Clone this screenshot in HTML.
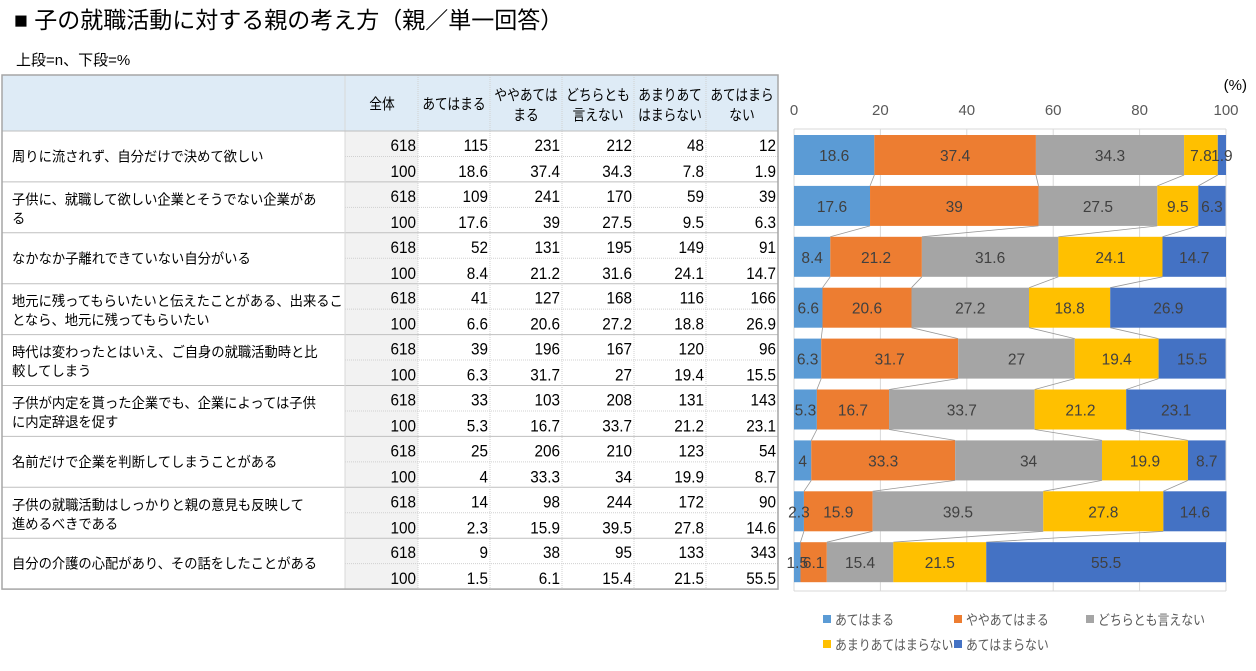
<!DOCTYPE html>
<html><head><meta charset="utf-8">
<style>
body{margin:0;background:#fff;width:1256px;height:666px;overflow:hidden;font-family:"Liberation Sans","Noto Sans CJK JP",sans-serif;}
svg text{font-family:"Liberation Sans","Noto Sans CJK JP",sans-serif;}
</style></head><body>
<svg id="s" width="1256" height="666" xmlns="http://www.w3.org/2000/svg"></svg>
<script>
const labels=[["周りに流されず、自分だけで決めて欲しい"],["子供に、就職して欲しい企業とそうでない企業があ","る"],["なかなか子離れできていない自分がいる"],["地元に残ってもらいたいと伝えたことがある、出来るこ","となら、地元に残ってもらいたい"],["時代は変わったとはいえ、ご自身の就職活動時と比","較してしまう"],["子供が内定を貰った企業でも、企業によっては子供","に内定辞退を促す"],["名前だけで企業を判断してしまうことがある"],["子供の就職活動はしっかりと親の意見も反映して","進めるべきである"],["自分の介護の心配があり、その話をしたことがある"]];
const n=[[115,231,212,48,12],[109,241,170,59,39],[52,131,195,149,91],[41,127,168,116,166],[39,196,167,120,96],[33,103,208,131,143],[25,206,210,123,54],[14,98,244,172,90],[9,38,95,133,343]];
const p=[[18.6,37.4,34.3,7.8,1.9],[17.6,39,27.5,9.5,6.3],[8.4,21.2,31.6,24.1,14.7],[6.6,20.6,27.2,18.8,26.9],[6.3,31.7,27,19.4,15.5],[5.3,16.7,33.7,21.2,23.1],[4,33.3,34,19.9,8.7],[2.3,15.9,39.5,27.8,14.6],[1.5,6.1,15.4,21.5,55.5]];
const cols=["#5b9bd5","#ed7d31","#a5a5a5","#ffc000","#4472c4"];
const sx=(x,y,s,content,attrs)=>`<text transform="translate(${x},${y}) scale(${s},1)" ${attrs}>${content}</text>`;
let h='';
h+=sx(14,28,1,"■ 子の就職活動に対する親の考え方（親／単一回答）",'font-size="23" fill="#000"');
h+=sx(16,65,1,"上段=n、下段=%",'font-size="15" fill="#000"');
const T=75,H=131,R=50.9;
const cx=[2,345,418,490,562,634,706,778];
h+=`<rect x="2" y="${T}" width="776" height="${H-T}" fill="#deebf6"/>`;
h+=`<rect x="345" y="${H}" width="73" height="${R*9}" fill="#f2f2f2"/>`;
const hd=[["全体"],["あてはまる"],["ややあては","まる"],["どちらとも","言えない"],["あまりあて","はまらない"],["あてはまら","ない"]];
hd.forEach((t,i)=>{const x=(cx[i+1]+cx[i+2])/2;
 if(t.length==1)h+=sx(i==0?382:x,109,0.85,t[0],'font-size="15" text-anchor="middle"');
 else{h+=sx(x,100,0.85,t[0],'font-size="15" text-anchor="middle"')+sx(x,120,0.85,t[1],'font-size="15" text-anchor="middle"');}});
for(let i=0;i<9;i++){const y=H+i*R;
 if(i>0)h+=`<line x1="2" x2="778" y1="${y}" y2="${y}" stroke="#bfbfbf"/>`;
 h+=`<line x1="345" x2="778" y1="${y+R/2}" y2="${y+R/2}" stroke="#d0d0d0" stroke-dasharray="1,1"/>`;
 const L=labels[i];
 if(L.length==1)h+=sx(12,y+R/2+5,0.95,L[0],'font-size="14"');
 else h+=sx(12,y+R/2-3,0.95,L[0],'font-size="14"')+sx(12,y+R/2+16,0.95,L[1],'font-size="14"');
 const r1=[618,...n[i]],r2=[100,...p[i]];
 for(let j=0;j<6;j++){h+=sx(cx[j+2]-2,y+20,0.9,r1[j],'font-size="17" text-anchor="end"')+sx(cx[j+2]-2,y+46,0.9,r2[j],'font-size="17" text-anchor="end"');}
}
for(let j=2;j<7;j++)h+=`<line x1="${cx[j]}" x2="${cx[j]}" y1="${T}" y2="${H+R*9}" stroke="#d0d0d0" stroke-dasharray="1,1"/>`;
h+=`<line x1="345" x2="345" y1="${T}" y2="${H+R*9}" stroke="#d8d8d8"/>`;
h+=`<line x1="2" x2="778" y1="${H}" y2="${H}" stroke="#bfbfbf"/>`;
h+=`<rect x="2" y="${T}" width="776" height="${H+R*9-T}" fill="none" stroke="#a6a6a6" stroke-width="1.5"/>`;
const X0=794,W=432;
for(let k=0;k<=5;k++){const x=X0+W*k/5;h+=`<line x1="${x}" x2="${x}" y1="129" y2="591" stroke="#d9d9d9"/><text x="${x}" y="115" font-size="15" fill="#595959" text-anchor="middle">${k*20}</text>`;}
h+=`<text x="1247" y="90" font-size="15" fill="#000" text-anchor="end">(%)</text>`;
h+=`<line x1="794" x2="1226" y1="129" y2="129" stroke="#d9d9d9"/><line x1="794" x2="1226" y1="591" y2="591" stroke="#d9d9d9"/>`;
const by=i=>135+i*R;
for(let i=0;i<9;i++){let c=0;const cum=[];
 for(let j=0;j<5;j++){const x=X0+W*c/100,w=W*p[i][j]/100;
  h+=`<rect x="${x}" y="${by(i)}" width="${w}" height="40" fill="${cols[j]}"/>`;
  c+=p[i][j];cum.push(c);}
 c=0;for(let j=0;j<5;j++){const x=X0+W*c/100,w=W*p[i][j]/100;
  h+=`<text x="${x+w/2}" y="${by(i)+26}" font-size="15.5" fill="#404040" text-anchor="middle">${p[i][j]}</text>`;c+=p[i][j];}
 if(i<8){let c2=0;for(let j=0;j<4;j++){c2+=p[i+1][j];h+=`<line x1="${X0+W*cum[j]/100}" y1="${by(i)+40}" x2="${X0+W*c2/100}" y2="${by(i+1)}" stroke="#999" stroke-width="0.8"/>`;}}
}
const lg=[[823,620,"あてはまる"],[954,620,"ややあてはまる"],[1086,620,"どちらとも言えない"],[823,645,"あまりあてはまらない"],[954,645,"あてはまらない"]];
lg.forEach((l,i)=>{h+=`<rect x="${l[0]}" y="${l[1]-5}" width="8" height="8" fill="${cols[i]}"/>`+sx(l[0]+12,l[1]+5,0.85,l[2],'font-size="14" fill="#595959"');});
document.getElementById('s').innerHTML=h;
</script>
</body></html>
